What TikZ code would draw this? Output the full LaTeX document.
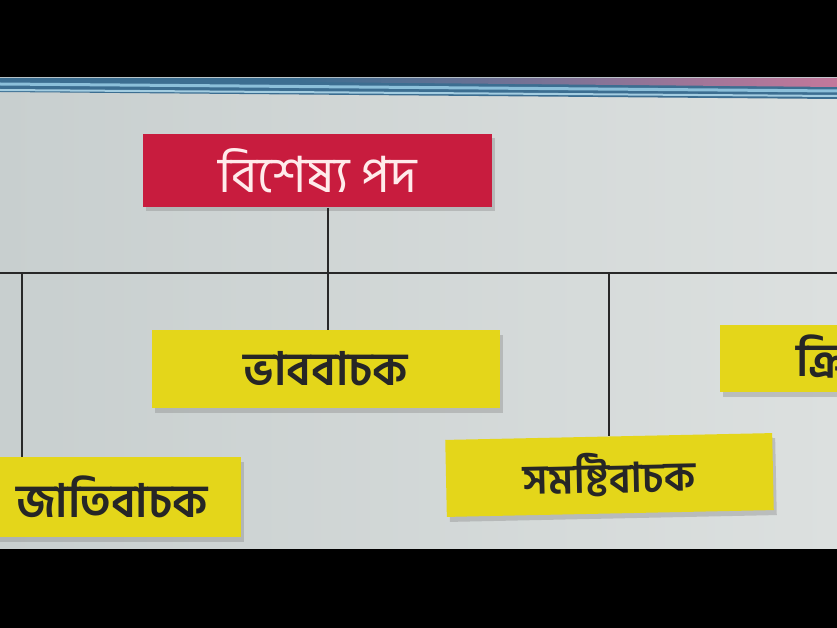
\documentclass[tikz,border=0pt]{standalone}
\usepackage{fontspec}
\newfontfamily\bnfont[Script=Bengali]{Hind Siliguri}
\usepackage{tikz}
\usetikzlibrary{positioning,shadows,calc}
\usepackage{xcolor}
\definecolor{pagegrey}{RGB}{200,207,207}
\definecolor{pagelight}{RGB}{220,224,223}
\definecolor{boxred}{RGB}{200,28,62}
\definecolor{boxyellow}{RGB}{228,214,26}
\definecolor{stripeblue}{RGB}{60,110,145}
\definecolor{stripelight}{RGB}{140,192,218}
\definecolor{stripepink}{RGB}{195,120,155}
\definecolor{linegrey}{RGB}{40,40,40}

\begin{document}
\begin{tikzpicture}[x=1pt,y=-1pt,thick]
\tikzstyle{redbox}=[rectangle,fill=boxred,text=white!92!red,font=\bnfont\fontsize{50}{56}\selectfont,
  drop shadow={shadow xshift=3pt,shadow yshift=-4pt,opacity=0.35}]
\tikzstyle{yellowbox}=[rectangle,fill=boxyellow,text=black!85,font=\bnfont\bfseries\fontsize{46}{52}\selectfont,
  drop shadow={shadow xshift=3pt,shadow yshift=-5pt,opacity=0.35}]
\tikzstyle{branch}=[draw=linegrey,line width=1.8pt]
\useasboundingbox (0,0) rectangle (837,628);
\clip (0,0) rectangle (837,628);
\fill[black] (0,0) rectangle (837,628);
% page
\shade[left color=pagegrey,right color=pagelight] (0,78) rectangle (837,548);
% coloured rule at the top of the page
\fill[stripeblue] (0,78) -- (837,78) -- (837,99) -- (0,92) -- cycle;
\shade[left color=stripeblue,right color=stripepink] (300,78) -- (837,78) -- (837,87) -- (300,82) -- cycle;
\draw[stripelight,line width=3pt] (0,84) -- (837,91);
\draw[stripelight!80!white,line width=2pt] (0,90) -- (837,96);

% boxes
\node[redbox,minimum width=349pt,minimum height=73pt] (P) at (317.5,171) {বিশেষ্য পদ};
\node[yellowbox,minimum width=348pt,minimum height=78pt] (B) at (326,369) {ভাববাচক};
\node[yellowbox,minimum width=258pt,minimum height=80pt] (J) at (112,497) {জাতিবাচক};
\node[yellowbox,minimum width=327pt,minimum height=77pt,rotate=1.2,
  font=\bnfont\bfseries\fontsize{41}{48}\selectfont] (S) at (609.5,475) {সমষ্টিবাচক};
\node[yellowbox,minimum height=67pt,anchor=west,inner xsep=76pt] (K) at (720,358.5) {ক্রিয়াবাচক};

% connectors
\coordinate (L) at (0,273);
\coordinate (R) at (837,273);
\coordinate (p) at (328,273);
\coordinate (j) at (22,273);
\coordinate (s) at (609,273);
\path[branch]
  (L) -- (R)
  (p |- P.south) -- (p)
  (p) -- (p |- B.north)
  (j) -- (j |- J.north)
  (s) -- (s |- S.north);
\end{tikzpicture}
\end{document}
